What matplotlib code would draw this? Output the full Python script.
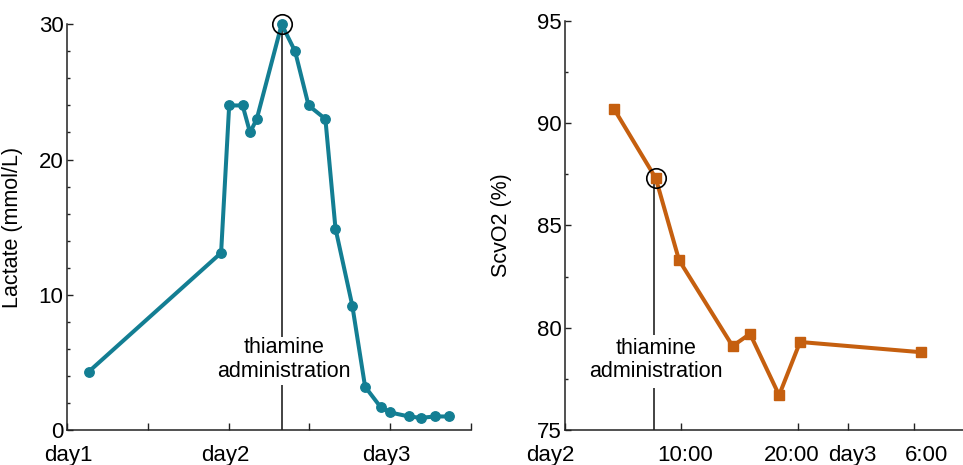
import matplotlib
matplotlib.use('Agg')
import matplotlib.pyplot as plt
import matplotlib.transforms as mtransforms

plt.rcParams['font.family'] = ['Liberation Sans', 'DejaVu Sans']

# lactate (hours from day1 0:00)
lac_hours = [3.2, 22.9, 24.1, 26.1, 27.2, 28.2, 31.9, 33.9, 35.9, 38.4, 39.9,
             42.4, 44.3, 46.6, 48.0, 50.8, 52.6, 54.7, 56.7]
lac_values = [4.3, 13.1, 24, 24, 22, 23, 30, 28, 24, 23, 14.9,
              9.2, 3.2, 1.7, 1.3, 1.0, 0.9, 1.0, 1.0]
lac_ticks = [0, 12, 24, 36, 48, 60]
lac_ticklabels = ['day1', '', 'day2', '', 'day3', '']
lac_thiamine = 31.9

# ScvO2 (hours from day2 0:00)
scv_hours = [4.2, 7.8, 9.8, 14.4, 15.9, 18.4, 20.2, 30.6]
scv_values = [90.7, 87.3, 83.3, 79.1, 79.7, 76.7, 79.3, 78.8]
scv_ticks = [0, 10, 20, 24.3, 30]
scv_ticklabels = ['day2', '10:00', '20:00', 'day3', '6:00']
scv_thiamine = 7.8

teal = '#137e93'
orange = '#c55f0f'
fs = 16

fig = plt.figure(figsize=(9.63, 4.65), dpi=100)
ax1 = fig.add_axes([0.0696, 0.0753, 0.4192, 0.8724])
ax2 = fig.add_axes([0.5867, 0.0753, 0.4133, 0.8802])


def style(ax):
    for s in ['top', 'right']:
        ax.spines[s].set_visible(False)
    for s in ['left', 'bottom']:
        ax.spines[s].set_linewidth(1.1)
        ax.spines[s].set_color('#222222')
    ax.tick_params(axis='both', which='both', direction='in', colors='#222222',
                   labelcolor='black', labelsize=fs, width=1.0)
    ax.tick_params(axis='y', which='major', length=4.5, pad=2.5)
    ax.tick_params(axis='y', which='minor', length=2.5)
    ax.tick_params(axis='x', which='major', length=5, pad=10.5)


def shift_labels(ax, px_offsets):
    # labels in the original are not exactly centred on their ticks
    for lab, dx in zip(ax.get_xticklabels(), px_offsets):
        off = mtransforms.ScaledTranslation(dx / 100, 0, fig.dpi_scale_trans)
        lab.set_transform(lab.get_transform() + off)


# left panel
ax1.plot(lac_hours, lac_values, '-o', color=teal, lw=2.9, ms=6.8, zorder=3, clip_on=False)
ax1.plot([lac_thiamine], [30], 'o', mfc='none', mec='black', ms=14, mew=1.2, zorder=4, clip_on=False)
ax1.vlines(lac_thiamine, 0, 3.3, color='#222222', lw=1.2, zorder=2)
ax1.vlines(lac_thiamine, 6.9, 30, color='#222222', lw=1.2, zorder=2)
ax1.text(32.2, 5.2, 'thiamine\nadministration', ha='center', va='center',
         fontsize=15.5, linespacing=1.15)
ax1.set_xlim(0, 60)
ax1.set_ylim(0, 30)
ax1.set_xticks(lac_ticks)
ax1.set_xticklabels(lac_ticklabels)
ax1.set_yticks([0, 10, 20, 30])
ax1.set_yticks(range(0, 31, 2), minor=True)
ax1.set_ylabel('Lactate (mmol/L)', fontsize=15.5)
ax1.yaxis.set_label_coords(-0.109, 0.5)
style(ax1)
shift_labels(ax1, [1, 0, -3, 0, -4, 0])

# right panel
ax2.plot(scv_hours, scv_values, '-s', color=orange, lw=2.9, ms=7, zorder=3, clip_on=False)
ax2.plot([scv_thiamine], [87.3], 'o', mfc='none', mec='black', ms=14, mew=1.2, zorder=4)
ax2.vlines(scv_thiamine - 0.15, 75, 77.05, color='#222222', lw=1.2, zorder=2)
ax2.vlines(scv_thiamine - 0.15, 79.64, 87.3, color='#222222', lw=1.2, zorder=2)
ax2.text(7.8, 78.42, 'thiamine\nadministration', ha='center', va='center',
         fontsize=15.5, linespacing=1.15)
ax2.set_xlim(0, 34.2)
ax2.set_ylim(75, 95)
ax2.set_xticks(scv_ticks)
ax2.set_xticklabels(scv_ticklabels)
ax2.set_yticks([75, 80, 85, 90, 95])
ax2.set_yticks([75 + 2.5 * i for i in range(9)], minor=True)
ax2.set_ylabel('ScvO2 (%)', fontsize=15.5)
ax2.yaxis.set_label_coords(-0.133, 0.5)
style(ax2)
shift_labels(ax2, [-15, 4, -6, 5, 12])

fig.savefig('out.png', dpi=100)
